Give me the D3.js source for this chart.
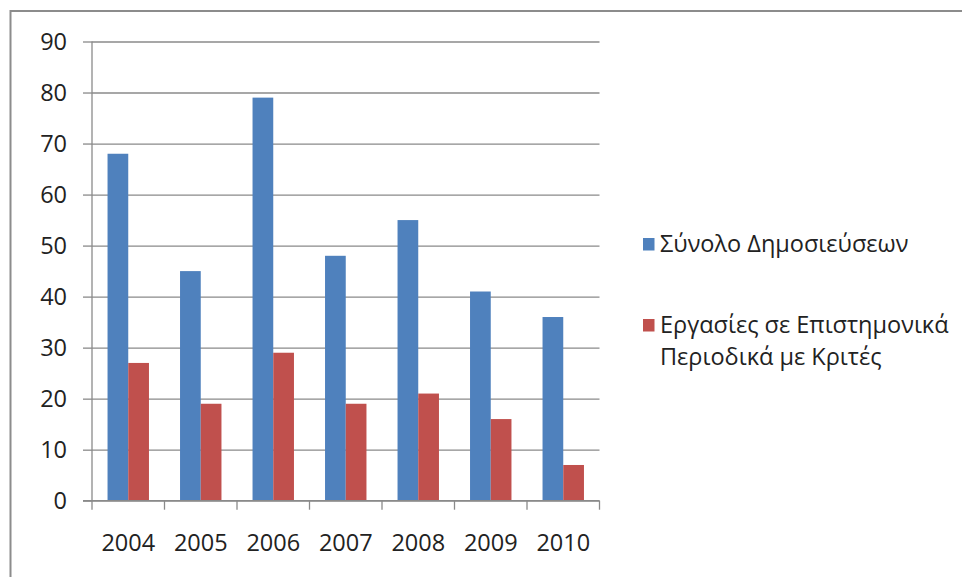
<!DOCTYPE html>
<html>
<head>
<meta charset="utf-8">
<script src="https://cdn.jsdelivr.net/npm/d3@7"></script>
<style>
  body { margin: 0; background: #fff; }
  svg { display: block; font-family: "Open Sans", sans-serif; }
</style>
</head>
<body>
<div id="chart"></div>
<script>
// Chart data
const years = ["2004", "2005", "2006", "2007", "2008", "2009", "2010"];
const totalPubs = [68, 45, 79, 48, 55, 41, 36];
const journalPapers = [27, 19, 29, 19, 21, 16, 7];
const yTicks = [0, 10, 20, 30, 40, 50, 60, 70, 80, 90];
const seriesNames = ["Σύνολο Δημοσιεύσεων", ["Εργασίες σε Επιστημονικά", "Περιοδικά με Κριτές"]];
const seriesColors = ["#4F81BD", "#C0504D"];

const width = 962, height = 577;
const plot = { left: 92, right: 599.5, top: 41.5, bottom: 500.7 };
const fontSize = 23.5;

const svg = d3.select("#chart").append("svg")
  .attr("width", width)
  .attr("height", height);

// outer chart border (runs off the right and bottom edge)
svg.append("rect")
  .attr("x", 10.5).attr("y", 11)
  .attr("width", 1000).attr("height", 1000)
  .attr("fill", "none")
  .attr("stroke", "#8c8c8c")
  .attr("stroke-width", 2);

const x = d3.scaleBand()
  .domain(years)
  .range([plot.left, plot.right]);

const xInner = d3.scaleBand()
  .domain([0, 1])
  .range([0, x.bandwidth()])
  .paddingOuter(0.75);

const y = d3.scaleLinear()
  .domain([0, 90])
  .range([plot.bottom, plot.top]);

// gridlines + y labels
const yAxis = svg.append("g")
  .attr("transform", `translate(${plot.left},0)`)
  .call(d3.axisLeft(y).tickValues(yTicks).tickSize(9).tickPadding(16))
  .call(g => g.select(".domain").remove());

yAxis.selectAll(".tick line").clone()
  .attr("x1", 0)
  .attr("x2", plot.right - plot.left);

yAxis.selectAll(".tick line").attr("stroke", "#8a8a8a").attr("stroke-width", 1.3);
yAxis.selectAll(".tick text")
  .attr("fill", "#222")
  .attr("font-size", fontSize)
  .attr("font-family", "Open Sans, sans-serif");

// y axis line
svg.append("line")
  .attr("x1", plot.left).attr("x2", plot.left)
  .attr("y1", plot.top).attr("y2", plot.bottom)
  .attr("stroke", "#8a8a8a").attr("stroke-width", 1.3);

// bars
const series = [totalPubs, journalPapers];
series.forEach((vals, s) => {
  svg.append("g").selectAll("rect")
    .data(vals)
    .join("rect")
    .attr("x", (d, i) => x(years[i]) + xInner(s))
    .attr("width", xInner.bandwidth())
    .attr("y", d => y(d))
    .attr("height", d => y(0) - y(d))
    .attr("fill", seriesColors[s]);
});

// x axis
const xAxis = svg.append("g")
  .attr("transform", `translate(0,${plot.bottom})`)
  .call(d3.axisBottom(x).tickSize(0).tickPadding(34));

xAxis.select(".domain")
  .attr("stroke", "#8a8a8a").attr("stroke-width", 1.3)
  .attr("d", `M${plot.left - 9},0H${plot.right}`);

xAxis.selectAll(".tick text")
  .attr("fill", "#222")
  .attr("font-size", fontSize)
  .attr("font-family", "Open Sans, sans-serif");

// category separator ticks
const sepTicks = years.map(yr => x(yr)).concat([plot.right]);
xAxis.selectAll(".sep")
  .data(sepTicks)
  .join("line")
  .attr("class", "sep")
  .attr("x1", d => d).attr("x2", d => d)
  .attr("y1", 0).attr("y2", 9)
  .attr("stroke", "#8a8a8a").attr("stroke-width", 1.3);

// legend
const legend = svg.append("g");
const legendY = [244.5, 325.5];
seriesNames.forEach((name, s) => {
  legend.append("rect")
    .attr("x", 643).attr("y", legendY[s] - 6.5)
    .attr("width", 11.5).attr("height", 12.5)
    .attr("fill", seriesColors[s]);
  const lines = Array.isArray(name) ? name : [name];
  const t = legend.append("text")
    .attr("x", 660)
    .attr("y", legendY[s] + 7.5)
    .attr("font-size", fontSize)
    .attr("fill", "#222");
  lines.forEach((ln, k) => {
    t.append("tspan")
      .attr("x", 660)
      .attr("dy", k === 0 ? 0 : 32)
      .text(ln);
  });
});
</script>
</body>
</html>
